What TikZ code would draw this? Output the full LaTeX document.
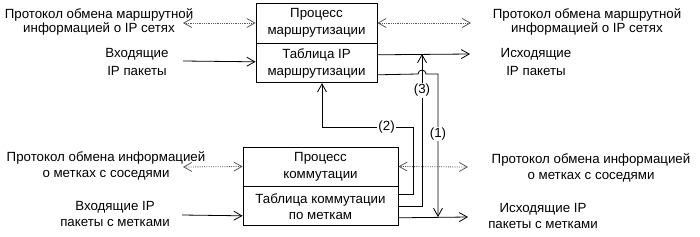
\documentclass[tikz,border=0pt]{standalone}
\usepackage{fontspec}
\setmainfont{Liberation Sans}
\usepackage{tikz}
\usetikzlibrary{arrows.meta, positioning, calc}

\begin{document}
\begin{tikzpicture}[x=1pt, y=-1pt, >={Straight Barb[length=8pt, width=9pt]},
            font=\fontsize{13.3}{16}\selectfont,
            box/.style={draw, rectangle, line width=0.8pt, align=center, inner sep=0pt},
            lbl/.style={align=center, inner sep=0pt},
            flow/.style={->, line width=0.8pt},
            proto/.style={<->, densely dotted, line width=0.8pt, gray!70!black},
            tag/.style={fill=white, inner sep=1pt}]
            \useasboundingbox (0,0) rectangle (700,236);

            % блоки
            \node[box, minimum width=121pt, minimum height=40pt, font=\fontsize{13.3}{17}\selectfont] (rt_proc) at (316.5,23) {Процесс\\маршрутизации};
            \node[box, minimum width=121pt, minimum height=39pt, font=\fontsize{13.3}{17}\selectfont, below=0pt of rt_proc] (rt_tbl) {Таблица IP\\маршрутизации};
            \node[box, minimum width=155pt, minimum height=39pt, font=\fontsize{13.3}{17}\selectfont] (mp_proc) at (320.5,166.5) {Процесс\\коммутации};
            \node[box, minimum width=155pt, minimum height=39pt, font=\fontsize{13.3}{16}\selectfont, below=0pt of mp_proc] (mp_tbl) {Таблица коммутации\\по меткам};

            % подписи
            \node[lbl, font=\fontsize{13.3}{14}\selectfont] (t_rip_l) at (99,22) {Протокол обмена маршрутной\\информацией о IP сетях};
            \node[lbl, font=\fontsize{13.3}{18}\selectfont] (t_ip_in) at (137,62) {Входящие\\IP пакеты};
            \node[lbl, font=\fontsize{13.3}{14}\selectfont] (t_rip_r) at (587,22) {Протокол обмена маршрутной\\информацией о IP сетях};
            \node[lbl, font=\fontsize{13.3}{18}\selectfont] (t_ip_out) at (536,62) {Исходящие\\IP пакеты};
            \node[lbl] (t_ldp_l) at (106,166) {Протокол обмена информацией\\о метках с соседями};
            \node[lbl] (t_lbl_in) at (115,214) {Входящие IP\\пакеты с метками};
            \node[lbl] (t_ldp_r) at (591,168) {Протокол обмена информацией\\о метках с соседями};
            \node[lbl] (t_lbl_out) at (543,216) {Исходящие IP\\пакеты с метками};

            % свободные концы и изломы
            \coordinate (rip_l) at (183,23);
            \coordinate (rip_r) at (471,23);
            \coordinate (ip_in) at (183,61);
            \coordinate (ip_out) at (470,54);
            \coordinate (ldp_l) at (183,167);
            \coordinate (ldp_r) at (468,167);
            \coordinate (lbl_in) at (182,215);
            \coordinate (lbl_out) at (468,217);
            \coordinate (c1_hop) at (418,74);
            \coordinate (c1_end) at (438,217);
            \coordinate (c2_turn) at (413,127);
            \coordinate (c2_top) at (322,127);
            \coordinate (c3_end) at (422,54);

            % протоколы
            \draw[proto] (rip_l) -- (rt_proc.west);
            \draw[proto] (rt_proc.east) -- (rip_r);
            \draw[proto] (ldp_l) -- (mp_proc.west);
            \draw[proto] (mp_proc.east) -- (ldp_r);

            % пакеты
            \draw[flow] (ip_in) -- ([yshift=1.5pt]rt_tbl.west);
            \draw[flow] ([yshift=8.5pt]rt_tbl.east) -- (ip_out);
            \draw[flow] (lbl_in) -- ([yshift=-9.5pt]mp_tbl.west);
            \draw[flow] ([yshift=-11.5pt]mp_tbl.east) -- (lbl_out);

            % (1) (2) (3)
            \draw[flow] ([yshift=-11.5pt]rt_tbl.east) -- (c1_hop) arc[start angle=180, end angle=0, radius=4pt]
                -| node[tag, pos=0.71] {(1)} (c1_end);
            \draw[flow] ([yshift=11.5pt]mp_tbl.east) -| (c2_turn) -- node[tag, pos=0.29] {(2)} (c2_top) -- (c2_top |- rt_tbl.south);
            \draw[flow] (mp_tbl.east) -| node[tag, pos=0.88] {(3)} (c3_end);
        \end{tikzpicture}
\end{document}
